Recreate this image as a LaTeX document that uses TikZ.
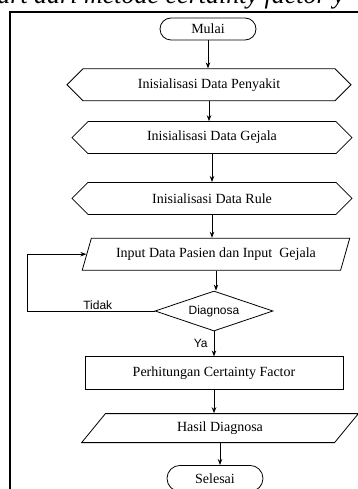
\documentclass[tikz,border=0pt]{standalone}
\usepackage{fontspec}
\setmainfont{Liberation Serif}
\newfontfamily\arialfont{Liberation Sans}
\usetikzlibrary{arrows.meta,positioning,shapes.geometric,shapes.symbols,shapes.misc}

\begin{document}
\begin{tikzpicture}[x=1pt, y=-1pt, >={Stealth[length=6pt,width=4.5pt]}, node distance=22pt,
  line width=0.8pt, font=\fontsize{14}{16}\selectfont]
\tikzstyle{term}=[rounded rectangle,draw,minimum width=96pt,minimum height=22pt,inner sep=0pt]
\tikzstyle{prep}=[signal,signal to=west and east,signal pointer angle=90,draw,minimum height=32pt,inner sep=0pt]
\tikzstyle{io}=[trapezium,trapezium stretches=true,trapezium left angle=60,trapezium right angle=120,draw,minimum height=32pt,inner sep=0pt]
\tikzstyle{proc}=[rectangle,draw,minimum width=258pt,minimum height=33pt,inner sep=0pt]
\tikzstyle{dec}=[diamond,draw,aspect=3,inner sep=0pt,minimum width=118pt,minimum height=40pt,font=\arialfont\fontsize{12}{14}\selectfont]
\tikzstyle{lbl}=[inner sep=0pt,font=\arialfont\fontsize{12}{14}\selectfont]
\tikzstyle{arr}=[->,line width=0.9pt]

\useasboundingbox (0,0) rectangle (358,489);
\clip (0,0) rectangle (358,489);
% caption line, cut off by the page
\node[anchor=base west,inner sep=0pt,font=\itshape\fontsize{26}{30}\selectfont] (caption) at (-3,4) {art dari metode certainty factor y};
\draw[line width=1.4pt] (10,489) |- (358,12);

\node[term] (mulai) at (208,29) {Mulai};
\node[prep,minimum width=284pt,below=28pt of mulai,xshift=1pt] (penyakit) {Inisialisasi Data Penyakit};
\node[prep,minimum width=280pt,below=20pt of penyakit,xshift=3pt] (gejala) {Inisialisasi Data Gejala};
\node[prep,minimum width=280pt,below=28pt of gejala] (rule) {Inisialisasi Data Rule};
\node[io,minimum width=268pt,below=23pt of rule,xshift=4pt] (input) {Input Data Pasien dan Input\ \ Gejala};
\node[dec,below=20pt of input,xshift=-2pt] (diag) {Diagnosa};
\node[proc,below=25pt of diag] (hitung) {Perhitungan Certainty Factor};
\node[io,trapezium left angle=55,trapezium right angle=125,minimum width=277pt,minimum height=29pt,below=23pt of hitung,xshift=6pt] (hasil) {Hasil Diagnosa};
\node[term,minimum height=26pt,below=22pt of hasil,xshift=-5pt] (selesai) {Selesai};

\draw[arr] (mulai.south) -- (mulai.south |- penyakit.north);
\draw[arr] (penyakit.south) -- (penyakit.south |- gejala.north);
\draw[arr] (gejala.south) -- (gejala.south |- rule.north);
\draw[arr] (rule.south) -- (rule.south |- input.north);
\draw[arr] (input.south) -- (input.south |- diag.north);
\draw[arr] (diag.south) -- node[lbl,left=6pt] (ya) {Ya} (diag.south |- hitung.north);
\draw[arr] (hitung.south) -- (hitung.south |- hasil.north);
\draw[arr] (hasil.south) -- (hasil.south |- selesai.north);

% jalur kembali
\coordinate (back) at (27,0);
\draw[arr] (diag.west) -- (diag.west -| back) |- (input.west);
\node[lbl,above left=1pt and 42pt of diag.west] (tidak) {Tidak};
\end{tikzpicture}
\end{document}
